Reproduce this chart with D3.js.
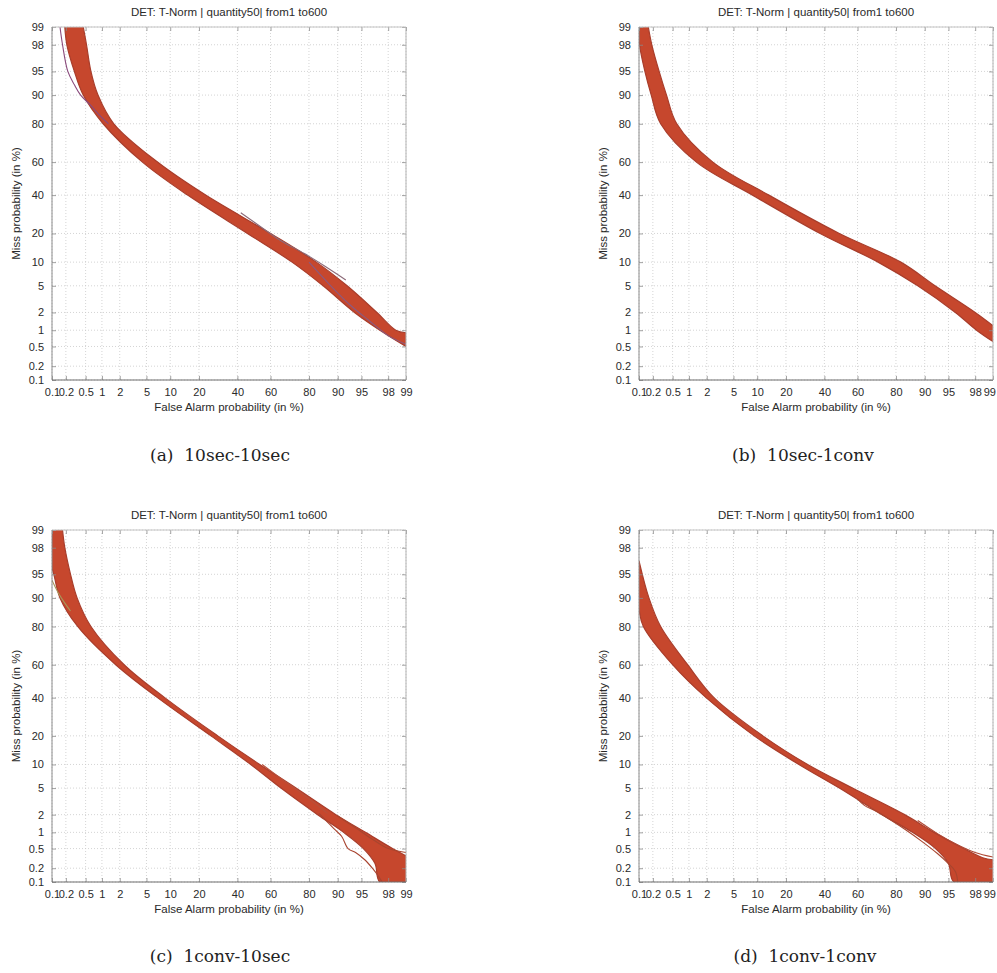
<!DOCTYPE html>
<html>
<head>
<meta charset="utf-8">
<script src="https://cdn.jsdelivr.net/npm/d3@7"></script>
<style>
  html, body { margin: 0; padding: 0; background: #ffffff; }
  svg { display: block; }
</style>
</head>
<body>
<svg id="chart" width="997" height="973"></svg>
<script>
// ---- tick values and labels (probit-scaled axes, in %) ----
const tickPercents = [0.1, 0.2, 0.5, 1, 2, 5, 10, 20, 40, 60, 80, 90, 95, 98, 99];
const tickLabels = ["0.1", "0.2", "0.5", "1", "2", "5", "10", "20", "40", "60", "80", "90", "95", "98", "99"];

const plotTitle = "DET: T-Norm | quantity50| from1 to600";
const xAxisTitle = "False Alarm probability (in %)";
const yAxisTitle = "Miss probability (in %)";
const captions = ["(a)  10sec-10sec", "(b)  10sec-1conv", "(c)  1conv-10sec", "(d)  1conv-1conv"];

// ---- DET bundles: [false alarm %, miss %] along the lower and upper edge of each bundle ----
const bandLowerA = [[0.19, 99], [0.21, 98], [0.3, 95], [0.45, 90], [1.05, 80], [4.4, 60], [15.5, 40], [46, 20], [72, 10], [85.5, 5], [93.8, 2], [97.3, 1], [99, 0.5]];
const bandUpperA = [[0.45, 99], [0.52, 98], [0.63, 95], [0.85, 90], [1.6, 80], [7, 60], [23, 40], [60, 20], [83, 10], [92.3, 5], [97, 2], [98.5, 1], [99, 0.9]];
const strayCurvesA = [
  [[0.15, 99], [0.17, 98], [0.22, 95], [0.3, 92.5], [0.4, 90], [0.62, 87], [0.95, 83], [1.3, 80]],
  [[42, 30], [56, 22], [66, 17], [78, 12.5], [86, 9], [92, 6]],
  [[80, 10], [88, 5], [93, 2.6], [96, 1.5], [98, 0.8], [99, 0.55]]
];

const bandLowerB = [[0.1, 99], [0.103, 98], [0.135, 95], [0.185, 90], [0.29, 80], [1.35, 60], [8.8, 40], [37.5, 20], [71.5, 10], [88, 5], [96, 2], [98.1, 1], [99, 0.62]];
const bandUpperB = [[0.16, 99], [0.19, 98], [0.27, 95], [0.38, 90], [0.6, 80], [2.5, 60], [13.5, 40], [49, 20], [82, 10], [92.5, 5], [98, 2], [99, 1.2]];
const strayCurvesB = [];

const bandLowerC = [[0.1, 99], [0.1, 96], [0.11, 95], [0.15, 90], [0.35, 80], [1.72, 60], [7, 40], [25.5, 20], [48, 10], [66, 5], [83.5, 2], [91.5, 1], [95.3, 0.5], [96.8, 0.25], [97.3, 0.1], [99, 0.1]];
const bandUpperC = [[0.17, 99], [0.19, 98], [0.25, 95], [0.34, 90], [0.63, 80], [2.35, 60], [8.6, 40], [29, 20], [53.5, 10], [74, 5], [89.5, 2], [95.6, 1], [98.3, 0.5], [99, 0.36]];
const strayCurvesC = [
  [[0.1, 94], [0.12, 92.5], [0.16, 90], [0.25, 86]],
  [[84, 2.1], [86.5, 1.6], [89, 1.15], [91, 0.85], [92.5, 0.5], [94, 0.42], [95.5, 0.3], [96.5, 0.2], [97.2, 0.13], [97.5, 0.1]],
  [[90, 1.9], [94, 1.2], [96.5, 0.75], [98, 0.5], [99, 0.42]],
  [[55, 10], [68, 6.2], [75, 4.6], [82, 3.1], [87, 2.1]]
];

const bandLowerD = [[0.1, 87], [0.125, 80], [0.5, 60], [1.95, 40], [9.2, 20], [26, 10], [49, 5], [73.5, 2], [86.3, 1], [92.6, 0.5], [95, 0.25], [95.8, 0.1], [99, 0.1]];
const bandUpperD = [[0.1, 96.8], [0.165, 90], [0.29, 80], [0.95, 60], [2.6, 40], [11.6, 20], [30.5, 10], [57, 5], [83.5, 2], [92.3, 1], [97, 0.5], [98.5, 0.33], [99, 0.3]];
const strayCurvesD = [
  [[60, 3.5], [64, 2.8], [70, 2.3], [78, 1.6], [84, 1.1], [89, 0.7], [93, 0.4], [95, 0.25], [96, 0.17], [96.3, 0.1]],
  [[88, 1.6], [93, 0.95], [96, 0.62], [98, 0.42], [99, 0.34]]
];

// ---- layout of the four panels ----
const panelLayout = [
  { left: 52,  top: 27,  width: 354, height: 353, capX: 220, capY: 461 },
  { left: 639, top: 27,  width: 354, height: 353, capX: 803, capY: 461 },
  { left: 52,  top: 530, width: 354, height: 352, capX: 220, capY: 962 },
  { left: 639, top: 530, width: 354, height: 352, capX: 805, capY: 962 }
];
const panelData = [
  { lower: bandLowerA, upper: bandUpperA, strays: strayCurvesA, strayColors: ["#8a4a7c", "#8c6a78", "#8a5a80"] },
  { lower: bandLowerB, upper: bandUpperB, strays: strayCurvesB, strayColors: [] },
  { lower: bandLowerC, upper: bandUpperC, strays: strayCurvesC, strayColors: ["#a8955a", "#a84430", "#a8452e", "#b8503a"] },
  { lower: bandLowerD, upper: bandUpperD, strays: strayCurvesD, strayColors: ["#a8452e", "#b04a36"] }
];

// inverse of the standard normal CDF (Acklam's rational approximation)
function probit(p) {
  const a = [-3.969683028665376e+01, 2.209460984245205e+02, -2.759285104469687e+02, 1.383577518672690e+02, -3.066479806614716e+01, 2.506628277459239e+00];
  const b = [-5.447609879822406e+01, 1.615858368580409e+02, -1.556989798598866e+02, 6.680131188771972e+01, -1.328068155288572e+01];
  const c = [-7.784894002430293e-03, -3.223964580411365e-01, -2.400758277161838e+00, -2.549732539343734e+00, 4.374664141464968e+00, 2.938163982698783e+00];
  const d = [7.784695709041462e-03, 3.224671290700398e-01, 2.445134137142996e+00, 3.754408661907416e+00];
  const pl = 0.02425, ph = 1 - pl;
  let q, r;
  if (p < pl) {
    q = Math.sqrt(-2 * Math.log(p));
    return (((((c[0] * q + c[1]) * q + c[2]) * q + c[3]) * q + c[4]) * q + c[5]) / ((((d[0] * q + d[1]) * q + d[2]) * q + d[3]) * q + 1);
  }
  if (p <= ph) {
    q = p - 0.5; r = q * q;
    return (((((a[0] * r + a[1]) * r + a[2]) * r + a[3]) * r + a[4]) * r + a[5]) * q / (((((b[0] * r + b[1]) * r + b[2]) * r + b[3]) * r + b[4]) * r + 1);
  }
  q = Math.sqrt(-2 * Math.log(1 - p));
  return -(((((c[0] * q + c[1]) * q + c[2]) * q + c[3]) * q + c[4]) * q + c[5]) / ((((d[0] * q + d[1]) * q + d[2]) * q + d[3]) * q + 1);
}

const svg = d3.select("#chart");
const svgWidth = 997;
const sansFont = "'Liberation Sans', Arial, Helvetica, sans-serif";
const serifFont = "'DejaVu Serif', 'Liberation Serif', serif";
const tickProbits = tickPercents.map(v => probit(v / 100));

function drawPanel(box, data, idx) {
  const g = svg.append("g").attr("transform", `translate(${box.left},${box.top})`);
  const pDomain = [probit(0.001), probit(0.99)];
  const x = d3.scaleLinear().domain(pDomain).range([0, box.width]);
  const y = d3.scaleLinear().domain(pDomain).range([box.height, 0]);
  const px = v => x(probit(v / 100));
  const py = v => y(probit(v / 100));

  // dotted grid
  const grid = g.append("g").attr("stroke", "#c9c9c9").attr("stroke-width", 0.8).attr("stroke-dasharray", "1,2");
  grid.selectAll("line.gx").data(tickProbits).join("line").attr("class", "gx")
    .attr("x1", d => x(d)).attr("x2", d => x(d)).attr("y1", 0).attr("y2", box.height);
  grid.selectAll("line.gy").data(tickProbits).join("line").attr("class", "gy")
    .attr("y1", d => y(d)).attr("y2", d => y(d)).attr("x1", 0).attr("x2", box.width);

  // clip region for the curves
  const clipId = "clip" + idx;
  g.append("clipPath").attr("id", clipId).append("rect")
    .attr("x", 0).attr("y", 0).attr("width", box.width).attr("height", box.height);
  const plot = g.append("g").attr("clip-path", `url(#${clipId})`);

  const line = d3.line().x(d => px(d[0])).y(d => py(d[1])).curve(d3.curveCatmullRom.alpha(0.5));

  // the bundle of DET curves, as the region between its two outer curves
  const lowerPath = line(data.lower);
  const upperPath = line(data.upper.slice().reverse());
  plot.append("path")
    .attr("d", lowerPath + "L" + upperPath.slice(1) + "Z")
    .attr("fill", "#c6472d")
    .attr("stroke", "none");
  [data.lower, data.upper].forEach(edge => {
    plot.append("path").attr("d", line(edge))
      .attr("fill", "none").attr("stroke", "#a83d2b").attr("stroke-width", 1.2);
  });

  // individual curves lying off the bundle
  data.strays.forEach((curve, i) => {
    plot.append("path").attr("d", line(curve))
      .attr("fill", "none")
      .attr("stroke", data.strayColors[i] || "#a8452e")
      .attr("stroke-width", 1.1);
  });

  // axes with inward ticks
  const fmt = (d, i) => tickLabels[i];
  const xAxis = g.append("g").attr("transform", `translate(0,${box.height})`)
    .call(d3.axisBottom(x).tickValues(tickProbits).tickFormat(fmt).tickSizeInner(-4).tickSizeOuter(0).tickPadding(8));
  const yAxis = g.append("g")
    .call(d3.axisLeft(y).tickValues(tickProbits).tickFormat(fmt).tickSizeInner(-4).tickSizeOuter(0).tickPadding(8));
  const topAxis = g.append("g")
    .call(d3.axisTop(x).tickValues(tickProbits).tickFormat("").tickSizeInner(-4).tickSizeOuter(0));
  const rightAxis = g.append("g").attr("transform", `translate(${box.width},0)`)
    .call(d3.axisRight(y).tickValues(tickProbits).tickFormat("").tickSizeInner(-4).tickSizeOuter(0));
  [xAxis, yAxis, topAxis, rightAxis].forEach(ax => {
    ax.select(".domain").remove();
    ax.selectAll(".tick line").attr("stroke", "#8a8a8a").attr("stroke-width", 0.8);
    ax.selectAll(".tick text").attr("fill", "#2a2a2a").attr("font-family", sansFont).attr("font-size", 11);
  });
  // keep the last label inside the page when the panel reaches the right edge
  xAxis.selectAll(".tick text").each(function () {
    const bb = this.getBBox();
    const t = d3.select(this.parentNode).attr("transform");
    const tx = +/translate\(([-\d.]+)/.exec(t)[1];
    const over = box.left + tx + bb.x + bb.width - (svgWidth - 1);
    if (over > 0) d3.select(this).attr("dx", -over);
  });

  // frame
  g.append("line").attr("x1", box.width).attr("x2", box.width).attr("y1", 0).attr("y2", box.height)
    .attr("stroke", "#b4b4b4").attr("stroke-width", 1);
  g.append("line").attr("x1", 0).attr("x2", box.width).attr("y1", 0).attr("y2", 0)
    .attr("stroke", "#c4c4c4").attr("stroke-width", 1);
  g.append("line").attr("x1", 0).attr("x2", 0).attr("y1", 0).attr("y2", box.height)
    .attr("stroke", "#8c8c8c").attr("stroke-width", 1);
  g.append("line").attr("x1", 0).attr("x2", box.width).attr("y1", box.height).attr("y2", box.height)
    .attr("stroke", "#6e6e6e").attr("stroke-width", 1.2);

  // titles
  g.append("text").attr("x", box.width / 2).attr("y", -11)
    .attr("text-anchor", "middle").attr("font-family", sansFont).attr("font-size", 11.5).attr("fill", "#2a2a2a")
    .text(plotTitle);
  g.append("text").attr("x", box.width / 2).attr("y", box.height + 31)
    .attr("text-anchor", "middle").attr("font-family", sansFont).attr("font-size", 11.5).attr("fill", "#2a2a2a")
    .text(xAxisTitle);
  g.append("text").attr("transform", `translate(-32,${box.height / 2}) rotate(-90)`)
    .attr("text-anchor", "middle").attr("font-family", sansFont).attr("font-size", 11.5).attr("fill", "#2a2a2a")
    .text(yAxisTitle);

  // sub-figure caption
  svg.append("text").attr("x", box.capX).attr("y", box.capY)
    .attr("text-anchor", "middle").attr("font-family", serifFont).attr("font-size", 17).attr("fill", "#222")
    .style("white-space", "pre")
    .text(captions[idx]);
}

panelLayout.forEach((box, i) => drawPanel(box, panelData[i], i));
</script>
</body>
</html>
